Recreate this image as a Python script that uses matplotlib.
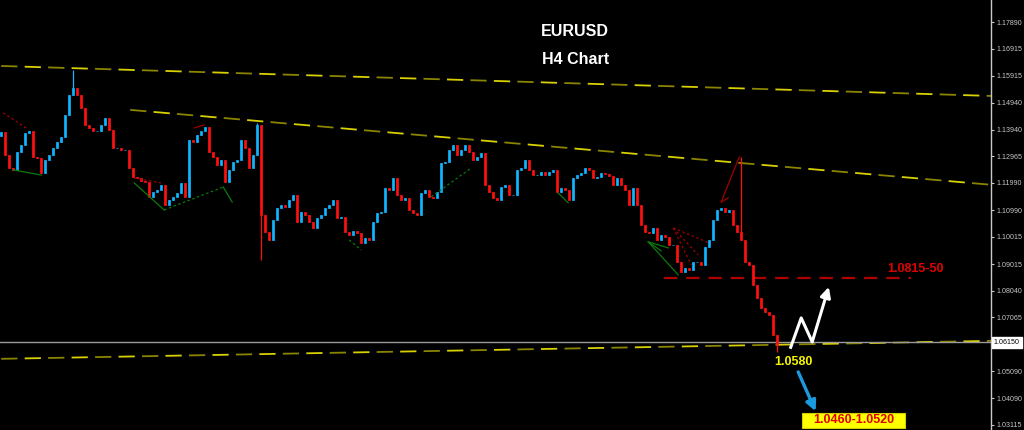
import numpy as np
import matplotlib
matplotlib.use('Agg')
import matplotlib.pyplot as plt
from matplotlib.patches import Rectangle
import matplotlib.transforms as mtransforms

plt.rcParams['font.family'] = ['Liberation Sans', 'DejaVu Sans']

# ---------------- data ----------------
closes = [
    1.1386, 1.1302, 1.1254, 1.1247, 1.1313, 1.1338, 1.1382, 1.1390, 1.1294, 1.1291,
    1.1236, 1.1283, 1.1302, 1.1327, 1.1349, 1.1368, 1.1448, 1.1522, 1.1547, 1.1522,
    1.1474, 1.1412, 1.1401, 1.1390, 1.1390, 1.1412, 1.1437, 1.1393, 1.1327, 1.1327,
    1.1320, 1.1320, 1.1254, 1.1221, 1.1217, 1.1206, 1.1203, 1.1148, 1.1166, 1.1173,
    1.1192, 1.1118, 1.1137, 1.1148, 1.1162, 1.1199, 1.1148, 1.1357, 1.1349, 1.1375,
    1.1390, 1.1404, 1.1313, 1.1294, 1.1265, 1.1283, 1.1203, 1.1247, 1.1276, 1.1283,
    1.1357, 1.1327, 1.1254, 1.1302, 1.1412, 1.1082, 1.1020, 1.0990, 1.1064, 1.1107,
    1.1118, 1.1111, 1.1137, 1.1155, 1.1056, 1.1093, 1.1082, 1.1056, 1.1034, 1.1071,
    1.1082, 1.1107, 1.1118, 1.1137, 1.1071, 1.1074, 1.1020, 1.1008, 1.1023, 1.1016,
    1.0979, 1.0997, 1.0990, 1.1056, 1.1089, 1.1093, 1.1181, 1.1173, 1.1217, 1.1155,
    1.1137, 1.1144, 1.1100, 1.1089, 1.1082, 1.1162, 1.1173, 1.1148, 1.1144, 1.1166,
    1.1272, 1.1276, 1.1320, 1.1338, 1.1302, 1.1320, 1.1338, 1.1313, 1.1283, 1.1294,
    1.1309, 1.1192, 1.1166, 1.1144, 1.1137, 1.1184, 1.1192, 1.1155, 1.1155, 1.1247,
    1.1254, 1.1283, 1.1247, 1.1228, 1.1228, 1.1239, 1.1228, 1.1239, 1.1247, 1.1166,
    1.1181, 1.1173, 1.1137, 1.1217, 1.1228, 1.1236, 1.1254, 1.1247, 1.1217, 1.1221,
    1.1236, 1.1232, 1.1225, 1.1192, 1.1217, 1.1192, 1.1173, 1.1118, 1.1181, 1.1118,
    1.1045, 1.1020, 1.1016, 1.1034, 1.0990, 1.1008, 1.1001, 1.0972, 1.0972, 1.0910,
    1.0873, 1.0888, 1.0880, 1.0910, 1.0910, 1.0899, 1.0965, 1.0990, 1.1064, 1.1100,
    1.1107, 1.1093, 1.1100, 1.1045, 1.1020, 1.0990, 1.0910, 1.0899, 1.0825, 1.0778,
    1.0741, 1.0726, 1.0715, 1.0642, 1.0605,
]
first_open = 1.1370
spike_index = [18, 64, 185]
spike_high = [1.1613, 1.1419, 1.1294]
dip_index = [65, 194]
dip_low = [1.0917, 1.0580]

price_ticks = [1.17890, 1.16915, 1.15915, 1.14940, 1.13940, 1.12965, 1.11990,
               1.10990, 1.10015, 1.09015, 1.08040, 1.07065, 1.06150, 1.05090,
               1.04090, 1.03115]
current_price = 1.06150
resistance_level = 1.0851
title_lines = ["EURUSD", "H4 Chart"]
resistance_text = "1.0815-50"
support_text = "1.0580"
target_text = "1.0460-1.0520"

# trendlines (candle index, price)
upper_trend = ([0, 247.75], [1.1628, 1.1518])
mid_trend = ([32.25, 247.75], [1.1467, 1.1192])
lower_trend = ([0, 247.75], [1.0554, 1.0620])

# ---------------- figure ----------------
fig = plt.figure(figsize=(10.24, 4.30), dpi=100, facecolor='black')
ax = fig.add_axes([0, 0, 991 / 1024, 1], facecolor='black')

n = len(closes)
x = np.arange(n)
opens = [first_open] + closes[:-1]
highs = [max(o, c) for o, c in zip(opens, closes)]
lows = [min(o, c) for o, c in zip(opens, closes)]
for i, h in zip(spike_index, spike_high):
    highs[i] = h
for i, l in zip(dip_index, dip_low):
    lows[i] = l

bull = '#10b4ff'
bear = '#ff1010'
cols = [bull if c >= o else bear for o, c in zip(opens, closes)]

ax.vlines(x, lows, highs, colors=cols, lw=0.9, zorder=3)
ax.bar(x, np.array(closes) - np.array(opens), bottom=opens, width=0.6,
       color=cols, edgecolor=cols, linewidth=0.5, zorder=3)

# trendlines: alternating bright / olive dashes
for tl in (upper_trend, mid_trend, lower_trend):
    ax.plot(tl[0], tl[1], color='#8a8400', lw=1.3, ls=(0, (9, 17)), zorder=2)
    ax.plot(tl[0], tl[1], color='#d8d000', lw=1.3, ls=(13, (9, 17)), zorder=2)

# current price line
ax.axhline(current_price, color='#9a9a9a', lw=1.0, zorder=2)

# resistance dashed line
ax.plot([165.75, 227.5], [resistance_level, resistance_level], color='#b00000',
        lw=1.6, ls=(0, (6, 4)), zorder=2)

# pattern lines
green = '#0b7a0b'
dred = '#a00000'
seg_solid_green = [
    ((3, 10), (1.1247, 1.1228)),
    ((33.25, 40.75), (1.1199, 1.1100)),
    ((55.5, 57.75), (1.1184, 1.1129)),
    ((139.25, 141.75), (1.1162, 1.1126)),
    ((161.75, 169.25), (1.0983, 1.0862)),
    ((161.75, 166.75), (1.0983, 1.0961)),
    ((161.75, 165.0), (1.0983, 1.0950)),
]
seg_dotted_green = [
    ((40.75, 55.5), (1.1100, 1.1184)),
    ((87, 90), (1.0990, 1.0953)),
    ((107.5, 117.5), (1.1148, 1.1254)),
]
seg_dotted_red = [
    ((0.5, 6.25), (1.1456, 1.1401)),
    ((33.25, 40), (1.1217, 1.1199)),
    ((168, 177), (1.1034, 1.0979)),
    ((168, 174.25), (1.1034, 1.0935)),
    ((168, 172.5), (1.1034, 1.0899)),
]
seg_solid_red = [
    ((48.25, 50.75), (1.1401, 1.1412)),
    ((180, 184.5), (1.1129, 1.1294)),
    ((180, 181.75), (1.1129, 1.1144)),
]
for xs, ys in seg_solid_green:
    ax.plot(xs, ys, color=green, lw=0.9, zorder=4)
for xs, ys in seg_dotted_green:
    ax.plot(xs, ys, color=green, lw=0.9, ls=(0, (2, 2)), zorder=4)
for xs, ys in seg_dotted_red:
    ax.plot(xs, ys, color=dred, lw=0.9, ls=(0, (2, 2)), zorder=4)
for xs, ys in seg_solid_red:
    ax.plot(xs, ys, color=dred, lw=0.9, zorder=4)

# white zigzag arrow
ax.plot([197.25, 200, 202.75], [1.0591, 1.0704, 1.0616], color='white', lw=2.2,
        zorder=6, solid_capstyle='butt')
ax.annotate('', xy=(206.9, 1.0818), xytext=(202.75, 1.0616),
            arrowprops=dict(arrowstyle='-|>,head_length=0.6,head_width=0.3',
                            color='white', lw=2.2, shrinkA=0, shrinkB=0), zorder=6)
# blue arrow
ax.annotate('', xy=(203.6, 1.0362), xytext=(199.25, 1.0506),
            arrowprops=dict(arrowstyle='-|>,head_length=0.6,head_width=0.3',
                            color='#1a9be0', lw=2.4, shrinkA=0, shrinkB=0), zorder=6)

# texts
ax.text(221.5, 1.0885, resistance_text, color='#e00000', fontsize=9,
        fontweight='bold', ha='left', va='center', zorder=7)
ax.text(198.1, 1.0543, support_text, color='#f5f500', fontsize=9,
        fontweight='bold', ha='center', va='center', zorder=7)
ax.add_patch(Rectangle((200.25, 1.0301), 25.75, 0.0055, facecolor='#ffff00',
                       edgecolor='#d0d000', lw=0.8, zorder=7))
ax.text(213.1, 1.03285, target_text, color='#e00000', fontsize=9,
        fontweight='bold', ha='center', va='center', zorder=8)

fig.text(575 / 1024, 1 - 32 / 430, title_lines[0], color='white', fontsize=11.5,
         fontweight='bold', ha='center', va='center')
fig.text(576 / 1024, 1 - 60 / 430, title_lines[1], color='white', fontsize=11.5,
         fontweight='bold', ha='center', va='center')

# axes
ax.set_xlim(-0.3, 247.45)
ax.set_ylim(1.0293, 1.1870)
for s in ('left', 'top', 'bottom'):
    ax.spines[s].set_visible(False)
ax.spines['right'].set_color('#c8c8c8')
ax.spines['right'].set_linewidth(1.0)
ax.set_xticks([])
ax.yaxis.tick_right()
ax.set_yticks(price_ticks)
ax.set_yticklabels(['' if abs(t - current_price) < 1e-9 else f'{t:.5f}'
                    for t in price_ticks])
ax.tick_params(axis='y', colors='#c8c8c8', labelsize=5.1, length=2.5, width=0.8, pad=1.5)
trans = mtransforms.blended_transform_factory(ax.transAxes, ax.transData)
ax.text(1.003, current_price, f'{current_price:.5f}', transform=trans, color='black',
        fontsize=5.1, ha='left', va='center', clip_on=False, zorder=9,
        bbox=dict(boxstyle='square,pad=0.3', facecolor='white', edgecolor='white'))

fig.savefig('out.png', dpi=100, facecolor='black')
